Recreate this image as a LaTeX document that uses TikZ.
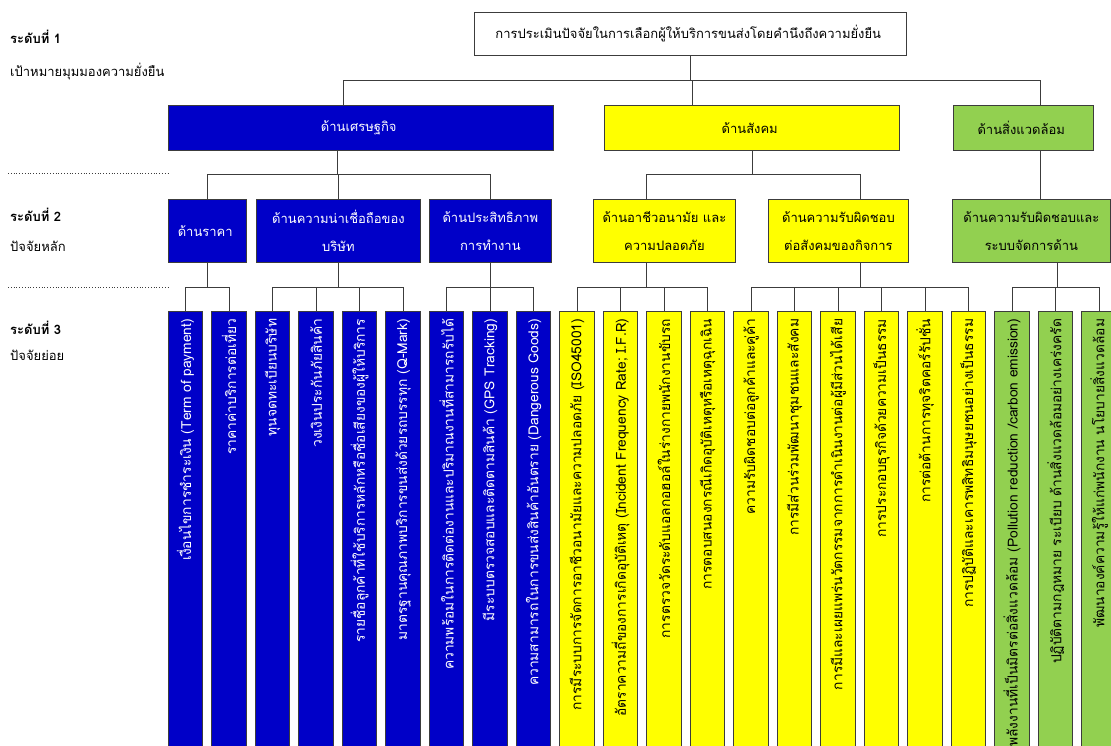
\documentclass[tikz,border=0pt]{standalone}
\usepackage{fontspec}
\setmainfont[Script=Thai]{Loma}
\definecolor{ecoblue}{RGB}{0,0,200}
\definecolor{socyellow}{RGB}{255,255,0}
\definecolor{envgreen}{RGB}{146,208,80}
\definecolor{linegray}{RGB}{60,60,60}

\begin{document}
\begin{tikzpicture}[
		x=1pt, y=-1pt,
		every node/.style={font=\fontsize{13}{15}\selectfont, inner sep=2pt},
		box/.style={draw=linegray, line width=0.8pt, anchor=north west, align=center},
		branch/.style={box, font=\fontsize{13}{28}\selectfont},
		leaf/.style={draw=linegray, line width=0.8pt, minimum width=34.5pt, minimum height=440pt, anchor=north, inner sep=0pt},
		leaftext/.style={rotate=90, anchor=east, font=\fontsize{13.8}{15}\selectfont},
		link/.style={draw=linegray, line width=0.8pt}
	]
	\useasboundingbox (0,0) rectangle (1111,745);
	\clip (0,0) rectangle (1111,745);

	% level labels
	\node[anchor=west, font=\bfseries\fontsize{13}{15}\selectfont] (lv1) at (8,37) { ระดับที่ 1 };
	\node[anchor=west] (lv1sub) at (8,72) { เป้าหมายมุมมองความยั่งยืน };
	\node[anchor=west, font=\bfseries\fontsize{13}{15}\selectfont] (lv2) at (8,215) { ระดับที่ 2 };
	\node[anchor=west] (lv2sub) at (8,246) { ปัจจัยหลัก };
	\node[anchor=west, font=\bfseries\fontsize{13}{15}\selectfont] (lv3) at (8,328) { ระดับที่ 3 };
	\node[anchor=west] (lv3sub) at (8,355) { ปัจจัยย่อย };
	\draw[dotted, linegray, line width=0.8pt] (8,173) -- (168,173);
	\draw[dotted, linegray, line width=0.8pt] (8,287) -- (168,287);

	% goal
	\node[box, minimum width=432pt, minimum height=43pt] (goal) at (474,12) { การประเมินปัจจัยในการเลือกผู้ให้บริการขนส่งโดยคำนึงถึงความยั่งยืน };

	% perspectives
	\node[box, fill=ecoblue, text=white, minimum width=385pt, minimum height=45pt] (econ) at (168,105) { ด้านเศรษฐกิจ };
	\node[box, fill=socyellow, minimum width=295pt, minimum height=45pt] (soc) at (604,105) { ด้านสังคม };
	\node[box, fill=envgreen, minimum width=140pt, minimum height=45pt] (env) at (953,105) { ด้านสิ่งแวดล้อม };

	% main factors
	\node[branch, fill=ecoblue, text=white, minimum width=78pt, minimum height=63pt] (price) at (168,199) { ด้านราคา };
	\node[branch, fill=ecoblue, text=white, minimum width=164pt, minimum height=63pt] (trust) at (256,199) { ด้านความน่าเชื่อถือของ\\บริษัท };
	\node[branch, fill=ecoblue, text=white, minimum width=122pt, minimum height=63pt] (perf) at (429,199) { ด้านประสิทธิภาพ\\การทำงาน };
	\node[branch, fill=socyellow, minimum width=142pt, minimum height=63pt] (safe) at (593,199) { ด้านอาชีวอนามัย และ\\ความปลอดภัย };
	\node[branch, fill=socyellow, minimum width=140pt, minimum height=63pt] (csr) at (768,199) { ด้านความรับผิดชอบ\\ต่อสังคมของกิจการ };
	\node[branch, fill=envgreen, minimum width=158pt, minimum height=63pt] (envm) at (952,199) { ด้านความรับผิดชอบและ\\ระบบจัดการด้าน };

	% sub factors
	\foreach \n/\fc/\tc/\t in {
			0/ecoblue/white/{เงื่อนไขการชำระเงิน (Term of payment)},
			1/ecoblue/white/{ราคาค่าบริการต่อเที่ยว},
			2/ecoblue/white/{ทุนจดทะเบียนบริษัท},
			3/ecoblue/white/{วงเงินประกันภัยสินค้า},
			4/ecoblue/white/{รายชื่อลูกค้าที่ใช้บริการหลักหรือชื่อเสียงของผู้ให้บริการ},
			5/ecoblue/white/{มาตรฐานคุณภาพบริการขนส่งด้วยรถบรรทุก (Q-Mark)},
			6/ecoblue/white/{ความพร้อมในการติดต่องานและปริมาณงานที่สามารถรับได้},
			7/ecoblue/white/{มีระบบตรวจสอบและติดตามสินค้า (GPS Tracking)},
			8/ecoblue/white/{ความสามารถในการขนส่งสินค้าอันตราย (Dangerous Goods)},
			9/socyellow/black/{การมีระบบการจัดการอาชีวอนามัยและความปลอดภัย (ISO45001)},
			10/socyellow/black/{อัตราความถี่ของการเกิดอุบัติเหตุ (Incident Frequency Rate; I.F.R)},
			11/socyellow/black/{การตรวจวัดระดับแอลกอฮอล์ในร่างกายพนักงานขับรถ},
			12/socyellow/black/{การตอบสนองกรณีเกิดอุบัติเหตุหรือเหตุฉุกเฉิน},
			13/socyellow/black/{ความรับผิดชอบต่อลูกค้าและคู่ค้า},
			14/socyellow/black/{การมีส่วนร่วมพัฒนาชุมชนและสังคม},
			15/socyellow/black/{การมีและเผยแพร่นวัตกรรมจากการดำเนินงานต่อผู้มีส่วนได้เสีย},
			16/socyellow/black/{การประกอบธุรกิจด้วยความเป็นธรรม},
			17/socyellow/black/{การต่อต้านการทุจริตคอร์รัปชั่น},
			18/socyellow/black/{การปฏิบัติและเคารพสิทธิมนุษยชนอย่างเป็นธรรม},
			19/envgreen/black/{พลังงานที่เป็นมิตรต่อสิ่งแวดล้อม (Pollution reduction /carbon emission)},
			20/envgreen/black/{ปฏิบัติตามกฎหมาย ระเบียบ ด้านสิ่งแวดล้อมอย่างเคร่งครัด},
			21/envgreen/black/{พัฒนาองค์ความรู้ให้แก่พนักงาน นโยบายสิ่งแวดล้อม}
		}{
		\node[leaf, fill=\fc] (l\n) at ({185.55+43.5*\n},310.7) {};
		\node[leaftext, text=\tc] (t\n) at ([yshift=-6pt]l\n.north) { \t };
	}

	% connectors
	\coordinate (bus0) at (0,80);
	\coordinate (bus1) at (0,174);
	\coordinate (bus2) at (0,287);
	\draw[link] (goal.south) -- (goal.south |- bus0);
	\draw[link] ([xshift=-17.5pt]econ.north) |- ([xshift=17pt]env.north |- bus0) -- ([xshift=17pt]env.north);
	\draw[link] ([xshift=-59.5pt]soc.north) -- ([xshift=-59.5pt]soc.north |- bus0);

	\draw[link] ([xshift=-23.5pt]econ.south) -- ([xshift=-23.5pt]econ.south |- bus1);
	\draw[link] (price.north) |- (perf.north |- bus1) -- (perf.north);
	\draw[link] (trust.north) -- (trust.north |- bus1);
	\draw[link] (soc.south) -- (soc.south |- bus1);
	\draw[link] ([xshift=-18pt]safe.north) |- ([xshift=22pt]csr.north |- bus1) -- ([xshift=22pt]csr.north);
	\draw[link] ([xshift=17pt]env.south) -- ([xshift=9pt]envm.north);

	\foreach \n in {0,...,21}
		\draw[link] (l\n.north) -- (l\n.north |- bus2);
	\draw[link] (price.south) -- (price.south |- bus2);
	\draw[link] (l0.north |- bus2) -- (l1.north |- bus2);
	\draw[link] (trust.south) -- (trust.south |- bus2);
	\draw[link] (l2.north |- bus2) -- (l5.north |- bus2);
	\draw[link] (perf.south) -- (perf.south |- bus2);
	\draw[link] (l6.north |- bus2) -- (l8.north |- bus2);
	\draw[link] ([xshift=-18pt]safe.south) -- ([xshift=-18pt]safe.south |- bus2);
	\draw[link] (l9.north |- bus2) -- (l12.north |- bus2);
	\draw[link] ([xshift=22pt]csr.south) -- ([xshift=22pt]csr.south |- bus2);
	\draw[link] (l13.north |- bus2) -- (l18.north |- bus2);
	\draw[link] ([xshift=26pt]envm.south) -- ([xshift=26pt]envm.south |- bus2);
	\draw[link] (l19.north |- bus2) -- (l21.north |- bus2);
\end{tikzpicture}
\end{document}
